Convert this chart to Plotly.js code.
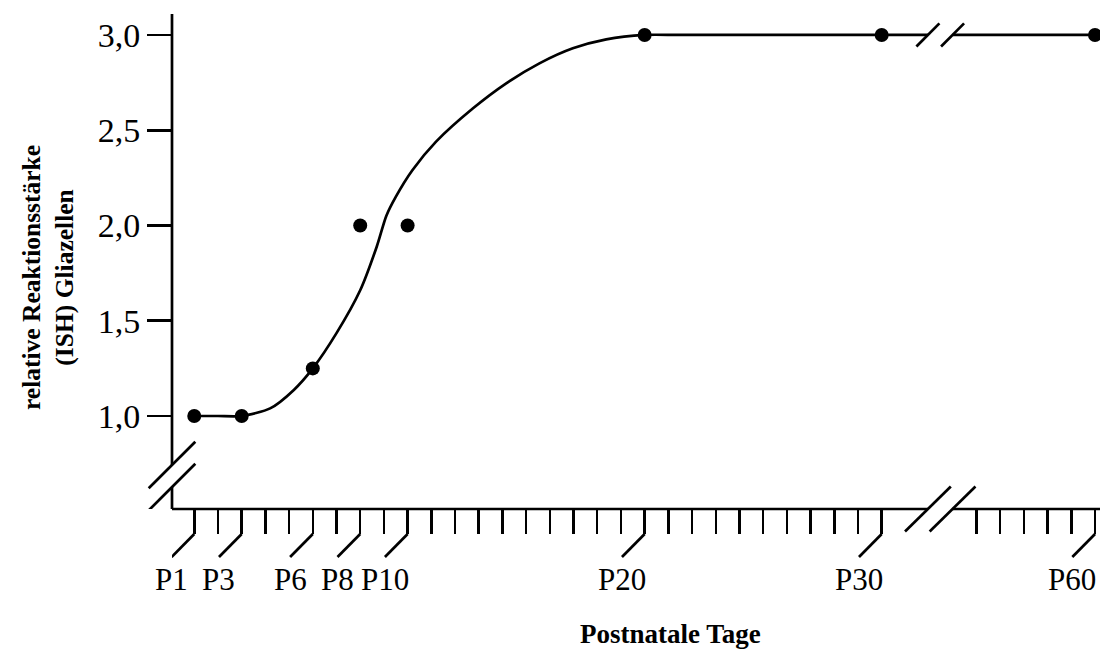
<!DOCTYPE html>
<html>
<head>
<meta charset="utf-8">
<script src="https://cdn.plot.ly/plotly-3.0.1.min.js"></script>
<style>html,body{margin:0;padding:0;background:#fff;}#chart{width:1100px;height:649px;}</style>
</head>
<body>
<div id="chart"></div>
<script>
// ---- data ----
const tickDays = [1,2,3,4,5,6,7,8,9,10,11,12,13,14,15,16,17,18,19,20,21,22,23,24,25,26,27,28,29,30,55,56,57,58,59,60];
const labelDays = [1,3,6,8,10,20,30,60];
const labelTexts = ['P1','P3','P6','P8','P10','P20','P30','P60'];
const pointDays = [1,3,6,8,10,20,30,60];
const pointValues = [1.0,1.0,1.25,2.0,2.0,3.0,3.0,3.0];
const curveDays = [1,2,3,4.2,5.2,6,7,8,8.7,9.1,9.5,10.2,11.2,12.76,14.16,15.56,16.97,18.38,20,21.5,30];
const curveValues = [1.0,1.0,1.0,1.04,1.137,1.25,1.435,1.66,1.89,2.05,2.15,2.29,2.44,2.615,2.746,2.851,2.93,2.977,3.0,3.0,3.0];
const tailDays = [60];
const tailValues = [3.0];
const yTickVals = [1.0,1.5,2.0,2.5,3.0];
const yTickText = ['1,0','1,5','2,0','2,5','3,0'];
const xTitle = 'Postnatale Tage';
const yTitle = 'relative Reaktionsstärke<br>(ISH) Gliazellen';

// ---- broken-axis scale: days 1..30 then 55..60 ----
function pos(d){ return d <= 30 ? d - 1 : d - 22; }
const X_RANGE = [-0.94, 38.21];
const Y_RANGE = [0.512, 3.11];
const BREAK_L = 30.95, BREAK_R = 31.99;      // x-axis gap edges (axis units)
const YBREAK_HI = 0.743, YBREAK_LO = 0.627;  // y-axis gap edges (axis units)
const LW = 2.7;
const FONT = 'Liberation Serif, Times New Roman, serif';

const traces = [
  { x: curveDays.map(pos).concat([BREAK_L]), y: curveValues.concat([3.0]),
    mode: 'lines', line: {color: '#000', width: LW, shape: 'spline', smoothing: 0.7},
    hoverinfo: 'skip', showlegend: false },
  { x: [BREAK_R].concat(tailDays.map(pos)), y: [3.0].concat(tailValues),
    mode: 'lines', line: {color: '#000', width: LW},
    hoverinfo: 'skip', showlegend: false },
  { x: pointDays.map(pos), y: pointValues, mode: 'markers',
    marker: {color: '#000', size: 14}, cliponaxis: false, showlegend: false }
];

const shapes = [];
const ln = {color: '#000', width: LW};
// y axis line in two parts
shapes.push({type:'line', xref:'paper', yref:'y', x0:0, x1:0, y0:YBREAK_HI, y1:Y_RANGE[1], line: ln});
shapes.push({type:'line', xref:'paper', yref:'y', x0:0, x1:0, y0:Y_RANGE[0], y1:YBREAK_LO, line: ln});
// y-axis break marks
[YBREAK_HI, YBREAK_LO].forEach(v => shapes.push({type:'line', xref:'paper', yref:'y',
  xsizemode:'pixel', ysizemode:'pixel', xanchor:0, yanchor:v,
  x0:-23.3, x1:23.3, y0:-23.3, y1:23.3, line: ln}));
// x axis line in two parts
shapes.push({type:'line', xref:'x', yref:'paper', x0:X_RANGE[0], x1:BREAK_L, y0:0, y1:0, line: ln});
shapes.push({type:'line', xref:'x', yref:'paper', x0:BREAK_R, x1:X_RANGE[1], y0:0, y1:0, line: ln});
// x-axis break marks
[BREAK_L, BREAK_R].forEach(v => shapes.push({type:'line', xref:'x', yref:'paper',
  xsizemode:'pixel', ysizemode:'pixel', xanchor:v, yanchor:0,
  x0:-22.9, x1:22.9, y0:-22.5, y1:22.5, line: ln}));
// break marks on the curve at 3.0
[BREAK_L, BREAK_R].forEach(v => shapes.push({type:'line', xref:'x', yref:'y',
  xsizemode:'pixel', ysizemode:'pixel', xanchor:v, yanchor:3.0,
  x0:-11.5, x1:11.5, y0:-11.6, y1:11.6, line: ln}));
// diagonal leaders of labelled ticks
labelDays.forEach(d => shapes.push({type:'line', xref:'x', yref:'paper',
  xsizemode:'pixel', ysizemode:'pixel', xanchor:pos(d), yanchor:0,
  x0:0, x1:-22.7, y0:-25, y1:-48, line: ln}));

const annotations = labelDays.map((d, i) => ({
  text: labelTexts[i], xref:'x', yref:'paper', x: pos(d), y: 0,
  xshift: -22.7, yshift: -70, xanchor:'center', yanchor:'middle', showarrow:false,
  font: {family: FONT, size: 31, color: '#000'}
}));
annotations.push({text: xTitle, xref:'paper', yref:'paper', x:0.5377, y:-0.2586,
  yshift: 3, xanchor:'center', yanchor:'middle', showarrow:false,
  font:{family:FONT, size:27, color:'#000', weight:'bold'}});
annotations.push({text: yTitle, xref:'paper', yref:'paper', x:-0.1336, y:0.4667,
  xanchor:'center', yanchor:'middle', textangle:-90, showarrow:false,
  font:{family:FONT, size:25.5, color:'#000', weight:'bold'}});

const layout = {
  width: 1100, height: 649,
  margin: {l:172, r:0, t:14, b:140},
  paper_bgcolor: '#fff', plot_bgcolor: '#fff',
  showlegend: false,
  font: {family: FONT, color: '#000'},
  xaxis: {
    range: X_RANGE, showgrid:false, zeroline:false, showline:false,
    tickmode:'array', tickvals: tickDays.map(pos), showticklabels:false,
    ticks:'outside', ticklen:24, tickwidth:2.5, tickcolor:'#000', fixedrange:true
  },
  yaxis: {
    range: Y_RANGE, showgrid:false, zeroline:false, showline:false,
    tickmode:'array', tickvals: yTickVals, ticktext: yTickText,
    ticks:'outside', ticklen:24, tickwidth:2.7, tickcolor:'#000',
    tickfont: {family: FONT, size: 34, color:'#000'}, fixedrange:true
  },
  shapes: shapes,
  annotations: annotations
};

Plotly.newPlot('chart', traces, layout, {displayModeBar:false, staticPlot:true});
</script>
</body>
</html>
